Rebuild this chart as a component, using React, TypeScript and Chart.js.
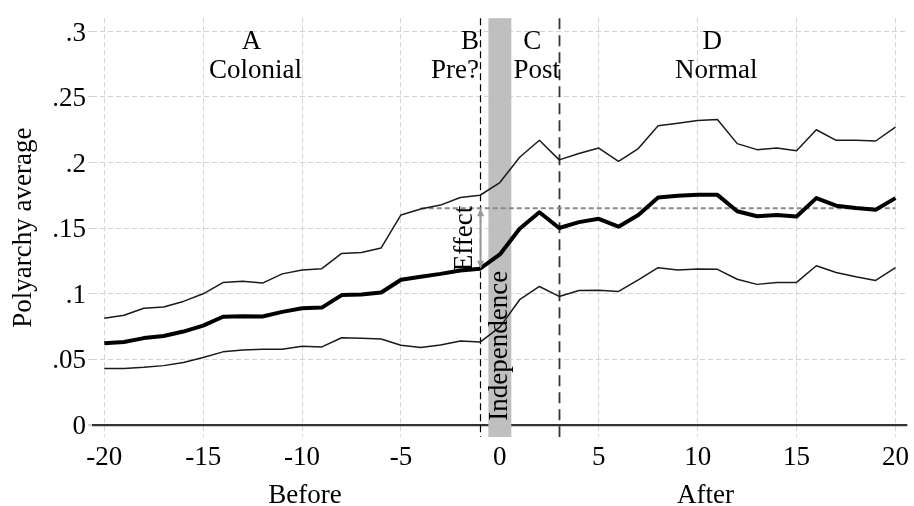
import React, { useEffect, useRef } from 'react';
import { Chart, registerables } from 'chart.js';

Chart.register(...registerables);

// ---- data ----
const years = [-20, -19, -18, -17, -16, -15, -14, -13, -12, -11, -10, -9, -8, -7, -6, -5, -4, -3, -2, -1, 0, 1, 2, 3, 4, 5, 6, 7, 8, 9, 10, 11, 12, 13, 14, 15, 16, 17, 18, 19, 20];
const polyMean = [0.062, 0.063, 0.066, 0.0676, 0.071, 0.0755, 0.0823, 0.0827, 0.0825, 0.086, 0.0888, 0.0893, 0.0988, 0.0993, 0.1008, 0.1105, 0.1128, 0.115, 0.1176, 0.119, 0.1298, 0.1494, 0.162, 0.150, 0.1545, 0.157, 0.151, 0.160, 0.1733, 0.1746, 0.1753, 0.1753, 0.1628, 0.159, 0.160, 0.1588, 0.1728, 0.167, 0.1653, 0.164, 0.1728];
const polyUpper = [0.0812, 0.0835, 0.0888, 0.0897, 0.094, 0.0998, 0.1084, 0.1094, 0.108, 0.115, 0.118, 0.119, 0.1306, 0.1313, 0.1348, 0.160, 0.1645, 0.1675, 0.1733, 0.175, 0.1847, 0.204, 0.217, 0.202, 0.2068, 0.211, 0.2008, 0.2106, 0.228, 0.230, 0.232, 0.2328, 0.2144, 0.2098, 0.211, 0.209, 0.225, 0.2169, 0.2169, 0.2164, 0.227];
const polyLower = [0.0429, 0.0429, 0.0437, 0.045, 0.0474, 0.0512, 0.0555, 0.057, 0.0575, 0.0575, 0.0598, 0.0593, 0.0663, 0.0659, 0.0653, 0.0605, 0.0588, 0.0607, 0.0638, 0.063, 0.0744, 0.0953, 0.1054, 0.0978, 0.1023, 0.1026, 0.1016, 0.1104, 0.1197, 0.118, 0.1188, 0.1185, 0.1109, 0.107, 0.1085, 0.1085, 0.1212, 0.116, 0.1128, 0.110, 0.1197];

const xTicks = [-20, -15, -10, -5, 0, 5, 10, 15, 20];
const yTicks = [0, 0.05, 0.1, 0.15, 0.2, 0.25, 0.3];
const yTickLabels = ['0', '.05', '.1', '.15', '.2', '.25', '.3'];

const periodLetters = ['A', 'B', 'C', 'D'];
const periodNames = ['Colonial', 'Pre?', 'Post', 'Normal'];
const phaseLines = [-1, 3];
const independenceYear = 0;
const effectFrom = 0.119;
const effectTo = 0.165;
const effectStartYear = -4;
const effectEndYear = 20;

const yAxisTitle = 'Polyarchy average';
const beforeLabel = 'Before';
const afterLabel = 'After';
const effectLabel = 'Effect';
const independenceLabel = 'Independence';

// ---- layout constants (not data) ----
const FONT = '"Liberation Serif", "Times New Roman", serif';
const FS = 27;
const letterX = [-12.55, -1.06, 1.64, 10.74];
const nameX = [-12.35, -1.06, 1.86, 10.94];
const letterAlign: CanvasTextAlign[] = ['center', 'right', 'center', 'center'];

const annotPlugin = {
  id: 'annot',
  beforeDatasetsDraw(chart: any) {
    const { ctx, chartArea, scales } = chart;
    const { top, bottom } = chartArea;
    const x = scales.x, y = scales.y;
    ctx.save();
    // independence band
    const bl = x.getPixelForValue(independenceYear - 0.58);
    const br = x.getPixelForValue(independenceYear + 0.58);
    ctx.fillStyle = '#bfbfbf';
    ctx.fillRect(bl, top, br - bl, bottom - top);
    // phase lines
    phaseLines.forEach((v, i) => {
      const px = Math.round(x.getPixelForValue(v)) + 0.5;
      ctx.beginPath();
      ctx.strokeStyle = i === 0 ? '#000' : '#333';
      ctx.lineWidth = i === 0 ? 1.2 : 1.8;
      ctx.setLineDash(i === 0 ? [7, 4] : [11, 6]);
      ctx.moveTo(px, top);
      ctx.lineTo(px, bottom);
      ctx.stroke();
    });
    // effect reference line
    const hy = y.getPixelForValue(effectTo);
    ctx.beginPath();
    ctx.strokeStyle = '#8a8a8a';
    ctx.lineWidth = 2;
    ctx.setLineDash([5, 3]);
    ctx.moveTo(x.getPixelForValue(effectStartYear), hy);
    ctx.lineTo(x.getPixelForValue(effectEndYear), hy);
    ctx.stroke();
    ctx.restore();
  },
  afterDatasetsDraw(chart: any) {
    const { ctx, chartArea, scales } = chart;
    const x = scales.x, y = scales.y;
    ctx.save();
    // arrow
    const ax = x.getPixelForValue(phaseLines[0]) + 0.5;
    const ay1 = y.getPixelForValue(effectFrom);
    const ay2 = y.getPixelForValue(effectTo);
    ctx.strokeStyle = '#999';
    ctx.fillStyle = '#999';
    ctx.lineWidth = 2;
    ctx.setLineDash([]);
    ctx.beginPath();
    ctx.moveTo(ax, ay1 - 3);
    ctx.lineTo(ax, ay2 + 3);
    ctx.stroke();
    const head = (yy: number, dir: number) => {
      ctx.beginPath();
      ctx.moveTo(ax, yy);
      ctx.lineTo(ax - 3.5, yy + dir * 8);
      ctx.lineTo(ax + 3.5, yy + dir * 8);
      ctx.closePath();
      ctx.fill();
    };
    head(ay2, 1);
    head(ay1, -1);

    ctx.fillStyle = '#000';
    ctx.font = `${FS}px ${FONT}`;
    // period labels
    const top = chartArea.top;
    periodLetters.forEach((t, i) => {
      ctx.textBaseline = 'alphabetic';
      ctx.textAlign = letterAlign[i];
      ctx.fillText(t, x.getPixelForValue(letterX[i]), top + 31);
      ctx.fillText(periodNames[i], x.getPixelForValue(nameX[i]), top + 59.5);
    });
    // Effect
    ctx.save();
    ctx.translate(x.getPixelForValue(-1.75), y.getPixelForValue((effectFrom + effectTo) / 2));
    ctx.rotate(-Math.PI / 2);
    ctx.textAlign = 'center';
    ctx.textBaseline = 'middle';
    ctx.fillText(effectLabel, 0, 0);
    ctx.restore();
    // Independence
    ctx.save();
    ctx.translate(x.getPixelForValue(independenceYear), y.getPixelForValue(0.003));
    ctx.rotate(-Math.PI / 2);
    ctx.textAlign = 'left';
    ctx.textBaseline = 'middle';
    ctx.fillText(independenceLabel, 0, 0);
    ctx.restore();
    // Before / After
    ctx.textAlign = 'center';
    ctx.textBaseline = 'alphabetic';
    ctx.fillText(beforeLabel, x.getPixelForValue(-9.85), chartArea.bottom + 66);
    ctx.fillText(afterLabel, x.getPixelForValue(10.4), chartArea.bottom + 66);
    ctx.restore();
  },
};

export default function App() {
  const ref = useRef<HTMLCanvasElement>(null);
  useEffect(() => {
    document.body.style.margin = '0';
    if (!ref.current) return;
    const chart = new Chart(ref.current, {
      type: 'line',
      data: {
        datasets: [
          { data: years.map((v, i) => ({ x: v, y: polyUpper[i] })), borderColor: '#1a1a1a', borderWidth: 1.5, pointRadius: 0, tension: 0, borderJoinStyle: 'round' },
          { data: years.map((v, i) => ({ x: v, y: polyMean[i] })), borderColor: '#000', borderWidth: 4, pointRadius: 0, tension: 0, borderJoinStyle: 'round' },
          { data: years.map((v, i) => ({ x: v, y: polyLower[i] })), borderColor: '#1a1a1a', borderWidth: 1.5, pointRadius: 0, tension: 0, borderJoinStyle: 'round' },
        ],
      },
      options: {
        responsive: false,
        animation: false,
        events: [],
        layout: { padding: { top: 15, right: 4, left: 0, bottom: 0 } },
        plugins: { legend: { display: false }, tooltip: { enabled: false } },
        scales: {
          x: {
            type: 'linear',
            min: -20.62,
            max: 20.6,
            afterBuildTicks: (s: any) => { s.ticks = xTicks.map((v) => ({ value: v })); },
            afterFit: (s: any) => { s.height = 69; },
            grid: { color: '#d4d4d4', lineWidth: 1, drawTicks: false },
            border: { display: false, dash: [5, 3] },
            ticks: {
              font: { family: FONT, size: FS },
              color: '#000',
              padding: 5,
              maxRotation: 0,
              autoSkip: false,
              callback: (v: any) => String(v),
            },
          },
          y: {
            type: 'linear',
            min: -0.00946,
            max: 0.3101,
            afterBuildTicks: (s: any) => { s.ticks = yTicks.map((v) => ({ value: v })); },
            afterFit: (s: any) => { s.width = 92; },
            grid: {
              color: (c: any) => (c.tick && c.tick.value === 0 ? '#333' : '#d4d4d4'),
              lineWidth: (c: any) => (c.tick && c.tick.value === 0 ? 2.2 : 1),
              drawTicks: true,
              tickLength: 4,
              tickColor: '#d4d4d4',
            },
            border: { display: false, dash: (c: any) => (c.tick && c.tick.value === 0 ? [] : [5, 3]) },
            ticks: {
              font: { family: FONT, size: FS },
              color: '#000',
              padding: 2,
              labelOffset: 2,
              autoSkip: false,
              callback: (v: any) => {
                const i = yTicks.indexOf(Number(v));
                return i >= 0 ? yTickLabels[i] : '';
              },
            },
            title: {
              display: true,
              text: yAxisTitle,
              font: { family: FONT, size: FS },
              color: '#000',
              padding: { top: 8, bottom: 0 },
            },
          },
        },
      },
      plugins: [annotPlugin],
    } as any);
    return () => chart.destroy();
  }, []);
  return (
    <div style={{ width: 914, height: 506 }}>
      <canvas ref={ref} width={914} height={506} style={{ display: 'block' }} />
    </div>
  );
}
